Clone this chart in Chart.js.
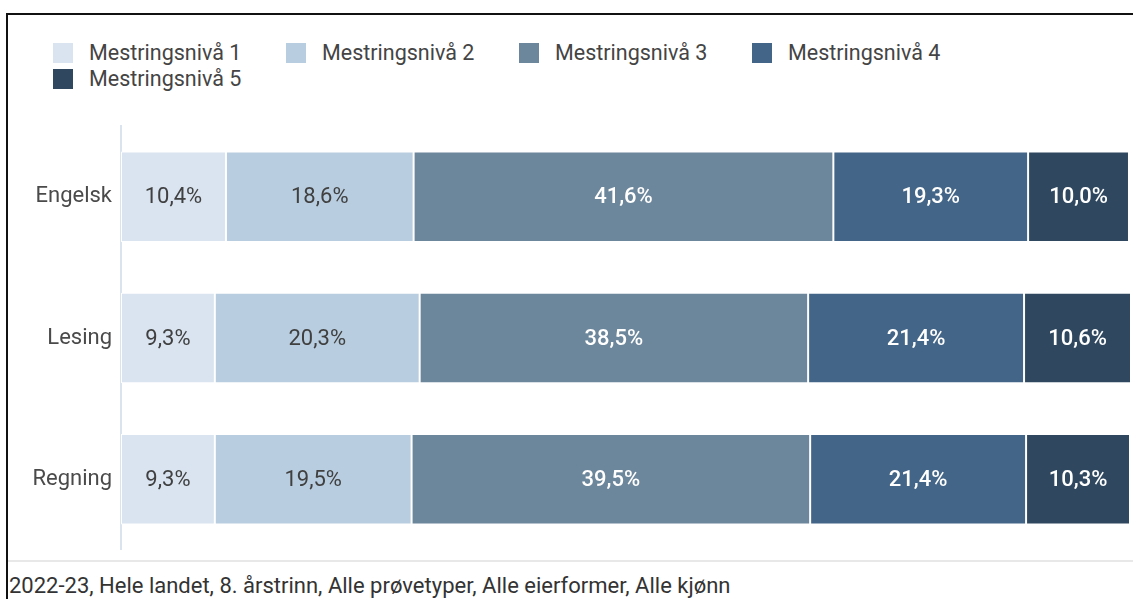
<!DOCTYPE html>
<html lang="no">
<head>
<meta charset="utf-8">
<title>Mestringsnivå</title>
<script src="https://cdn.jsdelivr.net/npm/chart.js@4/dist/chart.umd.min.js"></script>
<style>
    html, body {
        margin: 0;
        padding: 0;
        background: #fff;
        font-family: Roboto, "Noto Sans", sans-serif;
    }
    .frame {
        position: relative;
        width: 1133px;
        height: 599px;
        overflow: hidden;
    }
    .frame-top {
        position: absolute;
        left: 6px;
        top: 13px;
        right: 0;
        height: 2px;
        background: #111;
    }
    .frame-left {
        position: absolute;
        left: 6px;
        top: 13px;
        bottom: 0;
        width: 2px;
        background: #111;
    }
    .legend {
        position: absolute;
        left: 53px;
        top: 43px;
        width: 1000px;
    }
    .legend-item {
        display: inline-block;
        width: 233px;
        height: 26px;
        vertical-align: top;
        white-space: nowrap;
    }
    .legend-box {
        display: inline-block;
        width: 20px;
        height: 20px;
        margin-right: 16px;
        vertical-align: top;
    }
    .legend-text {
        display: inline-block;
        font-size: 21.5px;
        line-height: 20px;
        color: #444;
        vertical-align: top;
    }
    .chart-wrap {
        position: absolute;
        left: 8px;
        top: 112px;
        width: 1122px;
        height: 452px;
    }
    .separator {
        position: absolute;
        left: 8px;
        right: 0;
        top: 560px;
        height: 2px;
        background: #e8e8e8;
    }
    .footer {
        position: absolute;
        left: 9px;
        top: 574px;
        font-size: 22px;
        line-height: 24px;
        color: #333;
        white-space: nowrap;
    }
</style>
</head>
<body>
<div class="frame">
    <div class="frame-top"></div>
    <div class="frame-left"></div>
    <div class="legend" id="legend"></div>
    <div class="chart-wrap"><canvas id="chart"></canvas></div>
    <div class="separator"></div>
    <div class="footer" id="footer"></div>
</div>
<script>
// Chart data
const categories = ['Engelsk', 'Lesing', 'Regning'];
const levels = ['Mestringsnivå 1', 'Mestringsnivå 2', 'Mestringsnivå 3', 'Mestringsnivå 4', 'Mestringsnivå 5'];
const level1 = [10.4, 9.3, 9.3];
const level2 = [18.6, 20.3, 19.5];
const level3 = [41.6, 38.5, 39.5];
const level4 = [19.3, 21.4, 21.4];
const level5 = [10.0, 10.6, 10.3];
const footerText = '2022-23, Hele landet, 8. årstrinn, Alle prøvetyper, Alle eierformer, Alle kjønn';

const levelColors = ['#d9e4f0', '#b8cddf', '#6c869b', '#436587', '#2f4860'];
const labelColors = ['#404040', '#404040', '#ffffff', '#ffffff', '#ffffff'];

document.addEventListener('DOMContentLoaded', function() {
    buildLegend();
    document.getElementById('footer').textContent = footerText;
    initChart();
});

/**
 * Builds the HTML legend from the level names and colours
 */
function buildLegend() {
    const legend = document.getElementById('legend');
    levels.forEach((name, i) => {
        const item = document.createElement('span');
        item.className = 'legend-item';
        item.innerHTML = '<span class="legend-box" style="background:' + levelColors[i] + '"></span>' +
            '<span class="legend-text">' + name + '</span>';
        legend.appendChild(item);
    });
}

/**
 * Draws the percentage labels in the middle of each segment
 */
const segmentLabels = {
    id: 'segmentLabels',
    afterDatasetsDraw(chart) {
        const ctx = chart.ctx;
        ctx.save();
        ctx.textAlign = 'center';
        ctx.textBaseline = 'middle';
        chart.data.datasets.forEach((dataset, i) => {
            const meta = chart.getDatasetMeta(i);
            ctx.fillStyle = labelColors[i];
            ctx.font = (i >= 2 ? '500 ' : '400 ') + '22px Roboto';
            meta.data.forEach((bar, j) => {
                const text = dataset.data[j].toFixed(1).replace('.', ',') + '%';
                ctx.fillText(text, (bar.x + bar.base) / 2, bar.y + 1);
            });
        });
        ctx.restore();
    }
};

function initChart() {
    const series = [level1, level2, level3, level4, level5];
    Chart.defaults.font.family = 'Roboto';

    new Chart(document.getElementById('chart'), {
        type: 'bar',
        data: {
            labels: categories,
            datasets: series.map((values, i) => ({
                label: levels[i],
                data: values,
                backgroundColor: levelColors[i],
                borderColor: '#ffffff',
                borderWidth: 1,
                borderSkipped: false,
                categoryPercentage: 1,
                barPercentage: 0.64
            }))
        },
        options: {
            indexAxis: 'y',
            responsive: true,
            maintainAspectRatio: false,
            animation: false,
            layout: { padding: 0 },
            plugins: {
                legend: { display: false },
                tooltip: { enabled: false }
            },
            scales: {
                x: {
                    stacked: true,
                    display: false,
                    min: 0,
                    max: 100
                },
                y: {
                    stacked: true,
                    grid: { display: false },
                    border: { display: true, color: '#dbe3ee', width: 2 },
                    ticks: {
                        color: '#4a4a4a',
                        padding: 1,
                        font: { size: 22 }
                    },
                    afterFit(scale) {
                        scale.width = 113;
                    }
                }
            }
        },
        plugins: [segmentLabels]
    });
}
</script>
</body>
</html>
